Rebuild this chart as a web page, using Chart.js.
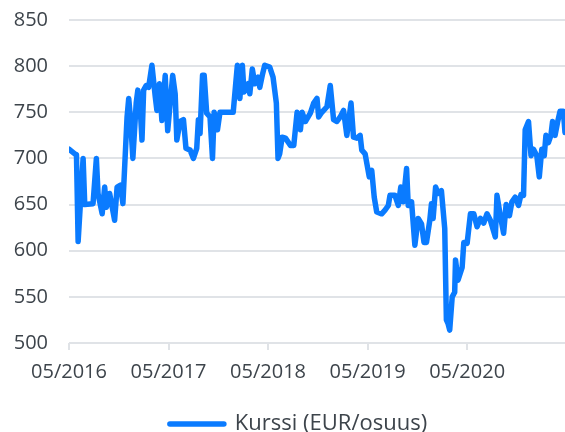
<!DOCTYPE html>
<html>
<head>
<meta charset="utf-8">
<script src="https://cdn.jsdelivr.net/npm/chart.js@4/dist/chart.umd.min.js"></script>
<style>
  html, body { margin: 0; padding: 0; background: #fff; }
  #wrap { width: 565px; height: 432px; }
</style>
</head>
<body>
<div id="wrap"><canvas id="line-chart"></canvas></div>
<script>
// kuukausia 05/2016 jälkeen
const kuukaudet = [
  0.0, 0.7, 0.9, 1.1, 1.7, 1.9, 2.9, 3.3, 3.5, 4.0, 4.3, 4.5, 4.9, 5.5, 5.8, 6.2, 6.5,
  7.0, 7.2, 7.4, 7.7, 8.1, 8.3, 8.6, 8.8, 9.0, 9.3, 9.6, 10.0, 10.4, 10.6, 10.9, 11.2,
  11.6, 11.9, 12.5, 12.8, 13.0, 13.4, 13.8, 14.1, 14.6, 15.0, 15.4, 15.6, 15.8, 16.1,
  16.3, 16.6, 17.0, 17.3, 17.5, 17.9, 18.2, 19.8, 20.1, 20.3, 20.6, 20.9, 21.1, 21.6,
  21.8, 22.1, 22.4, 22.8, 23.0, 23.3, 23.6, 24.2, 24.6, 25.0, 25.2, 25.4, 25.7, 26.1,
  26.7, 27.1, 27.5, 27.9, 28.1, 28.5, 29.1, 29.5, 29.9, 30.1, 30.4, 30.7, 31.1, 31.5,
  31.9, 32.3, 32.7, 33.1, 33.5, 34.0, 34.3, 34.7, 35.1, 35.3, 35.7, 36.2, 36.5, 36.8,
  37.1, 37.7, 38.1, 38.5, 38.7, 39.3, 39.7, 40.0, 40.3, 40.7, 40.9, 41.3, 41.7, 42.1,
  42.5, 42.8, 43.1, 43.5, 43.7, 43.9, 44.2, 44.5, 44.9, 45.3, 45.5, 45.7, 45.9, 46.2,
  46.5, 46.6, 46.9, 47.4, 47.6, 48.0, 48.4, 48.8, 49.2, 49.6, 50.0, 50.4, 50.8, 51.4,
  51.6, 52.0, 52.4, 52.7, 53.1, 53.4, 53.8, 54.2, 54.5, 54.8, 55.0, 55.4, 55.7, 56.0,
  56.4, 56.7, 57.0, 57.3, 57.5, 57.8, 58.1, 58.3, 58.6, 58.9, 59.2, 59.6, 59.8
]
const kurssi = [
  710, 705, 704, 610, 700, 650, 651, 700, 662, 640, 669, 647, 662, 633, 669, 671, 651,
  745, 765, 745, 700, 760, 774, 752, 720, 774, 779, 777, 801, 767, 752, 781, 741,
  790, 730, 790, 770, 720, 740, 742, 711, 709, 700, 711, 742, 727, 790,
  790, 749, 745, 700, 750, 731, 750, 750, 781, 801, 765, 801, 772, 781,
  770, 797, 781, 788, 777, 790, 801, 799, 788, 760, 700, 705, 723, 722,
  714, 714, 750, 731, 750, 740, 749, 760, 765, 745, 749, 752, 756, 779,
  742, 740, 745, 752, 725, 760, 723, 722, 725, 709, 705, 680, 687, 658,
  642, 640, 644, 649, 660, 660, 649, 669, 653, 689, 649, 653, 606, 635,
  629, 609, 609, 633, 651, 635, 669, 662, 665, 624, 525, 521, 514, 550,
  555, 590, 568, 582, 609, 608, 640, 640, 626, 635, 630, 640, 633, 615,
  660, 638, 619, 650, 638, 653, 658, 649, 661, 660, 731, 740, 703, 710,
  703, 680, 710, 703, 725, 717, 725, 740, 725, 739, 751, 751, 728
]
const vuodet = [2016, 2017, 2018, 2019, 2020]
const sarjanNimi = 'Kurssi (EUR/osuus)'

const sininen = '#0a7bff'
const tekstiVari = '#3d444b'
const ruudukko = '#e0e3e7'
const fontti = { family: 'Open Sans', size: 20 }

const pisteet = kuukaudet.map((m, i) => ({ x: m, y: kurssi[i] }))

// legenda hieman oikealle ja alemmas kuten alkuperäisessä
const siirraLegenda = {
  id: 'siirraLegenda',
  afterLayout(chart) {
    const l = chart.legend
    if (!l) return
    l.left += 20
    l.top += 13
    l.bottom += 13
  }
}

var ctx = document.querySelector('#line-chart')
new Chart(ctx, {
  type: 'line',
  data: {
    datasets: [{
      label: sarjanNimi,
      data: pisteet,
      borderColor: sininen,
      backgroundColor: sininen,
      borderWidth: 5.5,
      borderJoinStyle: 'round',
      borderCapStyle: 'round',
      pointRadius: 0,
      tension: 0,
      fill: false
    }]
  },
  plugins: [siirraLegenda],
  options: {
    responsive: true,
    maintainAspectRatio: false,
    animation: false,
    layout: { padding: { left: 12, right: 0, top: 20, bottom: 0 } },
    plugins: {
      tooltip: { enabled: false },
      legend: {
        position: 'bottom',
        labels: {
          usePointStyle: true,
          pointStyle: 'line',
          pointStyleWidth: 54,
          color: tekstiVari,
          font: { family: 'Open Sans', size: 22 },
          padding: 1,
          generateLabels: function (chart) {
            const ds = chart.data.datasets[0]
            return [{
              text: ds.label,
              fillStyle: sininen,
              strokeStyle: sininen,
              lineWidth: 5.5,
              lineCap: 'round',
              pointStyle: 'line',
              fontColor: tekstiVari,
              datasetIndex: 0
            }]
          }
        }
      }
    },
    scales: {
      x: {
        type: 'linear',
        min: 0,
        max: kuukaudet[kuukaudet.length - 1],
        afterBuildTicks: function (axis) {
          axis.ticks = vuodet.map((v, i) => ({ value: i * 12 }))
        },
        afterFit: function (axis) { axis.height = 56 },
        grid: {
          drawOnChartArea: false,
          drawTicks: true,
          tickLength: 7,
          color: ruudukko,
          lineWidth: 2
        },
        border: { display: false },
        ticks: {
          color: tekstiVari,
          font: fontti,
          padding: 10,
          maxRotation: 0,
          autoSkip: false,
          callback: function (v) {
            return '05/' + vuodet[Math.round(v / 12)]
          }
        }
      },
      y: {
        min: 500,
        max: 850,
        afterFit: function (axis) { axis.width = 57 },
        grid: {
          color: ruudukko,
          lineWidth: 2,
          drawTicks: true,
          tickLength: 21,
          tickColor: 'rgba(0,0,0,0)'
        },
        border: { display: false },
        ticks: {
          stepSize: 50,
          color: tekstiVari,
          font: fontti,
          padding: 0
        }
      }
    }
  }
})
</script>
</body>
</html>
